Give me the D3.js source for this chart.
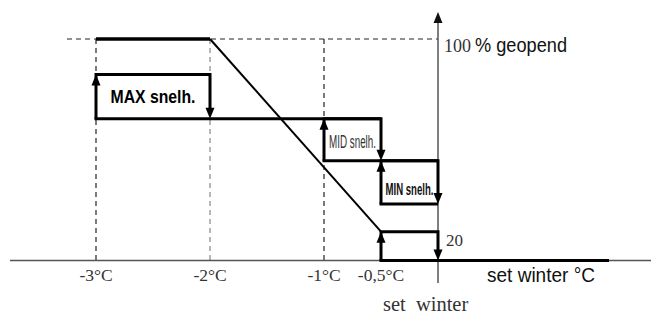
<!DOCTYPE html>
<html lang="nl">
<head>
  <meta charset="UTF-8">
  <title>Snelheid t.o.v. set winter</title>
  <script src="https://d3js.org/d3.v7.min.js"></script>
  <style>
    body { margin: 0; background: #fff; }
    svg { display: block; }
    .serif { font-family: "Liberation Serif", "DejaVu Serif", serif; fill: #333; }
    .narrow { font-family: "Liberation Sans Narrow", "Arial Narrow", "Liberation Sans", sans-serif; fill: #111; }
  </style>
</head>
<body>
  <script>
    // x in °C relative to set winter, y in schematic % open
    const xTicks = [-3, -2, -1, -0.5];
    const xTickLabels = ["-3°C", "-2°C", "-1°C", "-0,5°C"];
    const curve = [[-3, 100], [-2, 100], [-0.5, 13]];
    const stepNames = ["MAX snelh.", "MID snelh.", "MIN snelh.", ""];
    const stepX0 = [-3, -1, -0.5, -0.5];
    const stepX1 = [-2, -0.5, 0, 0];
    const stepLow = [64, 45, 25.5, 0];
    const stepHigh = [84, 64, 45, 13];
    const baseX0 = [-3, -1, -0.5, -0.5];
    const baseX1 = [-0.5, 0, 0, 1.5];
    const guideX = [-3, -2, -1];
    const yLabelLow = "20";

    const width = 651, height = 316;
    const svg = d3.select("body").append("svg")
      .attr("width", width).attr("height", height);

    const x = d3.scaleLinear().domain([-3, 0]).range([96, 438]);
    const y = d3.scaleLinear().domain([0, 100]).range([260.5, 39]);

    // dashed guides
    svg.append("line")
      .attr("x1", 67).attr("x2", x(0))
      .attr("y1", y(100)).attr("y2", y(100))
      .attr("stroke", "#222").attr("stroke-width", 1).attr("stroke-dasharray", "5,4");
    svg.selectAll("line.guide")
      .data(guideX)
      .enter().append("line")
      .attr("class", "guide")
      .attr("x1", d => x(d)).attr("x2", d => x(d))
      .attr("y1", y(100)).attr("y2", y(0))
      .attr("stroke", (d, i) => i === 1 ? "#888" : "#222")
      .attr("stroke-width", 1.2).attr("stroke-dasharray", "5,4");

    // axes
    svg.append("line")
      .attr("x1", 10).attr("x2", width)
      .attr("y1", y(0)).attr("y2", y(0))
      .attr("stroke", "#555").attr("stroke-width", 1.5);
    svg.append("line")
      .attr("x1", x(0)).attr("x2", x(0))
      .attr("y1", 283).attr("y2", 20)
      .attr("stroke", "#555").attr("stroke-width", 1.5);

    function arrowHead(px, py, dir, fill) {
      // dir: -1 points up, 1 points down
      const w = 4.5, l = 11;
      svg.append("path")
        .attr("d", `M${px},${py} L${px - w},${py - dir * l} L${px + w},${py - dir * l} Z`)
        .attr("fill", fill || "#000");
    }
    arrowHead(x(0), 12, -1, "#111");

    // heavy 100% line + slope
    svg.append("path")
      .attr("d", `M${x(curve[0][0])},${y(curve[0][1])} L${x(curve[1][0])},${y(curve[1][1])}`)
      .attr("stroke", "#000").attr("stroke-width", 3.5).attr("fill", "none");
    svg.append("path")
      .attr("d", `M${x(curve[1][0])},${y(curve[1][1])} L${x(curve[2][0])},${y(curve[2][1])}`)
      .attr("stroke", "#000").attr("stroke-width", 2).attr("fill", "none");

    const lw = 3;
    // step boxes
    stepNames.forEach((name, i) => {
      const xa = x(stepX0[i]), xb = x(stepX1[i]);
      const ylo = y(stepLow[i]), yhi = y(stepHigh[i]);
      svg.append("path")
        .attr("d", `M${xa},${ylo} L${xa},${yhi} L${xb},${yhi} L${xb},${ylo - 6}`)
        .attr("stroke", "#000").attr("stroke-width", lw).attr("fill", "none")
        .attr("stroke-linejoin", "miter");
      arrowHead(xa, yhi, -1);
      arrowHead(xb, ylo, 1);
    });

    // base lines
    baseX0.forEach((b, i) => {
      svg.append("line")
        .attr("x1", x(b) - 1.5).attr("x2", x(baseX1[i]))
        .attr("y1", y(stepLow[i])).attr("y2", y(stepLow[i]))
        .attr("stroke", "#000").attr("stroke-width", lw);
    });

    // box labels
    const labelStyle = [
      { size: 19, weight: "bold", dy: 6.3, len: 85, fill: "#000" },
      { size: 18, weight: "normal", dy: 8.2, len: 47, fill: "#333" },
      { size: 17, weight: "bold", dy: 12.5, len: 48, fill: "#111" }
    ];
    stepNames.slice(0, 3).forEach((name, i) => {
      const s = labelStyle[i];
      const cx = (x(stepX0[i]) + x(stepX1[i])) / 2;
      const cy = (y(stepLow[i]) + y(stepHigh[i])) / 2;
      svg.append("text")
        .attr("class", "narrow")
        .attr("x", cx - s.len / 2).attr("y", cy + s.dy)
        .attr("font-size", s.size).attr("font-weight", s.weight)
        .attr("textLength", s.len).attr("lengthAdjust", "spacingAndGlyphs")
        .style("fill", s.fill)
        .text(name);
    });

    // tick labels
    svg.selectAll("text.tick")
      .data(xTicks)
      .enter().append("text")
      .attr("class", "serif tick")
      .attr("x", d => x(d)).attr("y", 281)
      .attr("text-anchor", "middle")
      .attr("font-size", 17.5)
      .text((d, i) => xTickLabels[i]);

    svg.append("text").attr("class", "serif")
      .attr("x", 446).attr("y", 246).attr("font-size", 17)
      .text(yLabelLow);

    svg.append("text").attr("class", "serif")
      .attr("x", 444).attr("y", 52).attr("font-size", 18)
      .text("100");
    svg.append("text").attr("class", "narrow")
      .attr("x", 475).attr("y", 52).attr("font-size", 20)
      .attr("textLength", 92).attr("lengthAdjust", "spacingAndGlyphs")
      .text("% geopend");

    svg.append("text").attr("class", "narrow")
      .attr("x", 487).attr("y", 282).attr("font-size", 20)
      .attr("textLength", 108).attr("lengthAdjust", "spacingAndGlyphs")
      .text("set winter °C");

    svg.append("text").attr("class", "serif")
      .attr("x", 383).attr("y", 311).attr("font-size", 20.5)
      .attr("word-spacing", 5)
      .text("set winter");
  </script>
</body>
</html>
